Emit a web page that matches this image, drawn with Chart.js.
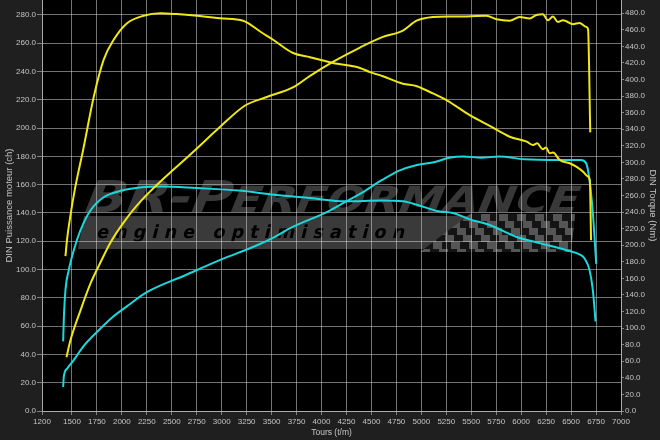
<!DOCTYPE html>
<html>
<head>
<meta charset="utf-8">
<script src="https://cdn.jsdelivr.net/npm/chart.js@4.4.1/dist/chart.umd.min.js"></script>
<style>
  html, body { margin: 0; padding: 0; background: #1f1f1f; }
  #wrap { width: 660px; height: 440px; position: relative; }
</style>
</head>
<body>
<div id="wrap"><canvas id="dyno"></canvas></div>
<script>
'use strict';

// ── Axis ticks ──────────────────────────────────────────
const rpmTicks    = [1200, 1500, 1750, 2000, 2250, 2500, 2750, 3000, 3250, 3500, 3750, 4000, 4250,
                     4500, 4750, 5000, 5250, 5500, 5750, 6000, 6250, 6500, 6750, 7000];
const powerTicks  = [0, 20, 40, 60, 80, 100, 120, 140, 160, 180, 200, 220, 240, 260, 280];
const torqueTicks = [0, 20, 40, 60, 80, 100, 120, 140, 160, 180, 200, 220, 240, 260, 280, 300,
                     320, 340, 360, 380, 400, 420, 440, 460, 480];

// ── Tuned run (yellow) ──────────────────────────────────
const tunedTorqueRpm = [1435, 1452, 1485, 1530, 1612, 1718, 1818, 1918, 2052, 2218, 2385, 2552,
                        2752, 2985, 3215, 3265, 3385, 3515, 3715, 3885, 4015, 4115, 4385, 4485, 4615,
                        4815, 4955, 5085, 5255, 5485, 5685, 5885, 6055, 6120, 6160, 6215, 6250, 6285,
                        6320, 6385, 6485, 6552, 6618, 6668, 6688, 6700];
const tunedTorqueNm  = [187, 208, 236, 268, 315, 379, 424, 448, 468, 477, 480, 479,
                        477, 474, 471, 468, 458, 448, 432, 427, 423, 420, 414, 409, 404,
                        395, 392, 385, 375, 357, 344, 331, 325, 321, 323, 316, 318, 311,
                        312, 303, 299, 295, 289, 283, 278, 206];

const tunedPowerRpm = [1445, 1485, 1585, 1685, 1785, 1885, 2015, 2185, 2735, 2985, 3235, 3452, 3718,
                       3885, 4118, 4385, 4615, 4815, 4952, 5115, 5285, 5452, 5652, 5752, 5885, 5985,
                       6085, 6152, 6218, 6268, 6318, 6368, 6418, 6452, 6518, 6585, 6652, 6670, 6692];
const tunedPowerCh  = [38, 50, 71, 90, 105, 119, 133, 148, 184.5, 201, 216, 222, 229,
                       237, 247, 257, 264.5, 269, 276, 278.6, 279, 279, 279.4, 277, 276, 278.6,
                       277.5, 280, 280.6, 276.3, 279, 275, 276.3, 275.6, 273.5, 274.4, 271.6, 270, 197];

// ── Stock run (cyan) ────────────────────────────────────
const stockTorqueRpm = [1412, 1418, 1435, 1468, 1518, 1585, 1685, 1818, 2000, 2200, 2400, 2750, 3171,
                        3528, 3885, 4242, 4599, 4814, 4955, 5171, 5314, 5492, 5671, 5955, 6205, 6455,
                        6599, 6635, 6685, 6718, 6745];
const stockTorqueNm  = [84, 109, 146, 170, 194, 218, 242, 258, 266, 270, 271, 269, 266,
                        261, 257, 253, 254, 253, 249, 241, 239, 231, 225, 210, 202, 194,
                        188, 184, 170, 146, 108];

const stockPowerRpm = [1412, 1418, 1452, 1518, 1618, 1752, 1900, 2050, 2250, 2635, 2992, 3349, 3528,
                       3706, 4064, 4242, 4421, 4599, 4778, 4956, 5135, 5278, 5421, 5599, 5778, 6028,
                       6385, 6599, 6652, 6685, 6718, 6752];
const stockPowerCh  = [17, 24, 30, 36, 46, 56, 66, 74, 84, 96, 107, 117, 123,
                       130, 141, 148, 155, 163, 170, 174, 176, 179, 180, 179, 180, 178,
                       177.5, 177.5, 175, 163, 140, 104];

// ── Look ────────────────────────────────────────────────
const YELLOW = '#f0e814';
const CYAN   = '#1ad9dc';
const GRID   = 'rgba(210,210,210,0.55)';
const TEXT   = '#c4c4c4';
const FAMILY = "'Liberation Sans', Arial, sans-serif";

function zip(xs, ys) { return xs.map((x, i) => ({ x, y: ys[i] })); }

function lineSet(label, xs, ys, color, axis) {
  return {
    label, data: zip(xs, ys), yAxisID: axis,
    borderColor: color, borderWidth: 2, pointRadius: 0,
    tension: 0.4, cubicInterpolationMode: 'monotone', fill: false,
  };
}

// background, black plot area and the BR-Performance watermark
const backdrop = {
  id: 'backdrop',
  beforeDraw(chart) {
    const { ctx, chartArea: a } = chart;
    ctx.save();
    ctx.fillStyle = '#1f1f1f';
    ctx.fillRect(0, 0, chart.width, chart.height);
    ctx.fillStyle = '#000';
    ctx.fillRect(a.left, a.top, a.right - a.left, a.bottom - a.top);

    // grey band
    ctx.fillStyle = '#3a3a3a';
    ctx.beginPath();
    ctx.moveTo(84, 216); ctx.lineTo(575, 216); ctx.lineTo(571, 249); ctx.lineTo(78, 249);
    ctx.closePath(); ctx.fill();

    // checkered flag at the right end of the band
    ctx.save();
    ctx.beginPath();
    ctx.moveTo(470, 214); ctx.lineTo(575, 214); ctx.lineTo(571, 252); ctx.lineTo(420, 252);
    ctx.closePath(); ctx.clip();
    for (let r = 0; r < 6; r++) {
      for (let c = 0; c < 20; c++) {
        const x = 418 + c * 9 - r * 3, y = 214 + r * 7;
        ctx.fillStyle = (r + c) % 2 ? '#555' : '#141414';
        ctx.fillRect(x, y, 9, 7);
      }
    }
    ctx.restore();

    // big italic logo text
    ctx.save();
    ctx.fillStyle = '#383838';
    const big = 'bold 44px "DejaVu Sans"', small = 'bold 36px "DejaVu Sans"';
    ctx.font = big;  const w1 = ctx.measureText('BR-P').width;
    ctx.font = small; const w2 = ctx.measureText('ERFORMANCE').width;
    ctx.translate(80, 212);
    ctx.transform(1, 0, -0.4, 1, 0, 0);
    ctx.scale(495 / (w1 + w2), 1);
    ctx.font = big;   ctx.fillText('BR-P', 0, 0);
    ctx.font = small; ctx.fillText('ERFORMANCE', w1, 0);
    ctx.restore();

    // engine optimisation
    ctx.save();
    ctx.fillStyle = '#000';
    ctx.font = 'bold 18px "DejaVu Sans"';
    const tag = 'e n g i n e   o p t i m i s a t i o n';
    const tw = ctx.measureText(tag).width;
    ctx.translate(96, 238);
    ctx.transform(1, 0, -0.25, 1, 0, 0);
    ctx.scale(308 / tw, 1);
    ctx.fillText(tag, 0, 0);
    ctx.restore();

    ctx.restore();
  }
};

new Chart(document.getElementById('dyno'), {
  type: 'line',
  data: {
    datasets: [
      lineSet('Couple préparé (Nm)', tunedTorqueRpm, tunedTorqueNm, YELLOW, 'yTorque'),
      lineSet('Puissance préparée (ch)', tunedPowerRpm, tunedPowerCh, YELLOW, 'yPower'),
      lineSet('Couple origine (Nm)', stockTorqueRpm, stockTorqueNm, CYAN, 'yTorque'),
      lineSet('Puissance origine (ch)', stockPowerRpm, stockPowerCh, CYAN, 'yPower'),
    ],
  },
  options: {
    responsive: true,
    maintainAspectRatio: false,
    animation: false,
    devicePixelRatio: 1,
    layout: { padding: 0 },
    plugins: { legend: { display: false }, tooltip: { enabled: false } },
    scales: {
      x: {
        type: 'linear', min: 1200, max: 7000,
        afterBuildTicks: s => { s.ticks = rpmTicks.map(v => ({ value: v })); },
        afterFit: s => { s.height = 29; s.paddingLeft = 0; s.paddingRight = 0; },
        grid: { color: GRID, tickColor: GRID, tickLength: 4 },
        border: { color: GRID },
        ticks: { color: TEXT, padding: 2, maxRotation: 0, autoSkip: false,
                 font: { family: FAMILY, size: 8 }, callback: v => String(v) },
        title: { display: true, text: 'Tours (t/m)', color: TEXT,
                 font: { family: FAMILY, size: 8.5 }, padding: { top: 0, bottom: 2 } },
      },
      yPower: {
        type: 'linear', position: 'left', min: 0, max: 290.6,
        afterBuildTicks: s => { s.ticks = powerTicks.map(v => ({ value: v })); },
        afterFit: s => { s.width = 42; s.paddingTop = 0; s.paddingBottom = 0; },
        grid: { color: GRID, tickColor: GRID, tickLength: 5 },
        border: { color: GRID },
        ticks: { color: TEXT, padding: 1, font: { family: FAMILY, size: 8 },
                 callback: v => Number(v).toFixed(1) },
        title: { display: true, text: 'DIN Puissance moteur (ch)', color: TEXT,
                 font: { family: FAMILY, size: 9.5 }, padding: { top: 4, bottom: 0 } },
      },
      yTorque: {
        type: 'linear', position: 'right', min: 0, max: 496,
        afterBuildTicks: s => { s.ticks = torqueTicks.map(v => ({ value: v })); },
        afterFit: s => { s.width = 39; s.paddingTop = 0; s.paddingBottom = 0; },
        grid: { drawOnChartArea: false, color: GRID, tickColor: GRID, tickLength: 3 },
        border: { color: GRID },
        ticks: { color: TEXT, padding: 1, font: { family: FAMILY, size: 8 },
                 callback: v => Number(v).toFixed(1) },
        title: { display: true, text: 'DIN Torque (Nm)', color: TEXT,
                 font: { family: FAMILY, size: 9.5 }, padding: { top: 2, bottom: 0 } },
      },
    },
  },
  plugins: [backdrop],
});
</script>
</body>
</html>
